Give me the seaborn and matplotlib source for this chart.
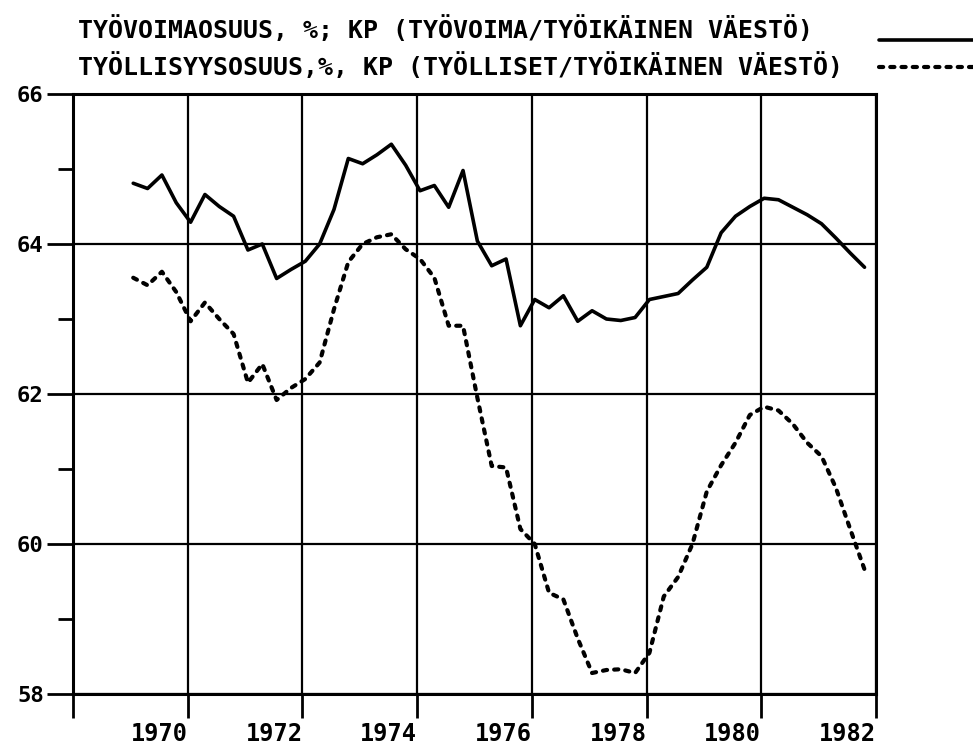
import numpy as np
import pandas as pd
import matplotlib
matplotlib.use("Agg")
import matplotlib.pyplot as plt
import seaborn as sns

# neljännesvuodet 1969 I - 1981 IV
vuodet = list(range(1969, 1982))
neljannes = [0.05, 0.30, 0.55, 0.80]

# työvoimaosuus, % (kausipuhdistettu)
tyovoimaosuus = [
    64.81, 64.74, 64.92, 64.55, 64.29, 64.66, 64.50, 64.37, 63.92, 64.00,
    63.54, 63.66, 63.77, 64.00, 64.46, 65.14, 65.07, 65.19, 65.33, 65.05,
    64.71, 64.78, 64.49, 64.98, 64.04, 63.71, 63.80, 62.91, 63.26, 63.15,
    63.31, 62.97, 63.11, 63.00, 62.98, 63.02, 63.26, 63.30, 63.34, 63.52,
    63.69, 64.15, 64.37, 64.50, 64.61, 64.59, 64.49, 64.39, 64.27, 64.08,
    63.88, 63.69,
]

# työllisyysosuus, % (kausipuhdistettu)
tyollisyysosuus = [
    63.55, 63.45, 63.63, 63.36, 62.97, 63.22, 63.00, 62.80, 62.15, 62.40,
    61.92, 62.08, 62.20, 62.42, 63.13, 63.76, 64.00, 64.09, 64.13, 63.93,
    63.80, 63.55, 62.91, 62.91, 61.95, 61.04, 61.02, 60.20, 60.00, 59.35,
    59.26, 58.74, 58.28, 58.32, 58.33, 58.28, 58.55, 59.30, 59.56, 60.00,
    60.70, 61.05, 61.35, 61.72, 61.83, 61.78, 61.60, 61.35, 61.17, 60.75,
    60.20, 59.66,
]

otsikko1 = "TYÖVOIMAOSUUS, %; KP (TYÖVOIMA/TYÖIKÄINEN VÄESTÖ)"
otsikko2 = "TYÖLLISYYSOSUUS,%, KP (TYÖLLISET/TYÖIKÄINEN VÄESTÖ)"

x_tikit = [1968, 1970, 1972, 1974, 1976, 1978, 1980, 1982]
x_nimet = ["", "1970", "1972", "1974", "1976", "1978", "1980", "1982"]
y_tikit = [58, 60, 62, 64, 66]
y_pienet = [59, 61, 63, 65]

aika = [v + q for v in vuodet for q in neljannes]
df = pd.DataFrame({"aika": aika, "tyovoima": tyovoimaosuus, "tyollisyys": tyollisyysosuus})

#%%
sns.set_theme(style="white")
plt.rcParams["font.family"] = ["DejaVu Sans Mono", "DejaVu Sans"]
plt.rcParams["font.weight"] = "bold"
for k in ["text.color", "xtick.color", "ytick.color", "axes.labelcolor"]:
    plt.rcParams[k] = "black"

fig = plt.figure(figsize=(9.73, 7.46), dpi=100)
ax = fig.add_axes([73 / 973, 1 - 694 / 746, (876 - 73) / 973, (694 - 94) / 746])

sns.lineplot(data=df, x="aika", y="tyovoima", ax=ax, color="black", lw=2.6,
             label=otsikko1, zorder=3)
sns.lineplot(data=df, x="aika", y="tyollisyys", ax=ax, color="black", lw=3.0,
             linestyle=(0, (1.0, 1.7)), dash_capstyle="round", label=otsikko2, zorder=3)

ax.set_xlim(1968, 1982)
ax.set_ylim(58, 66)
ax.set_xticks(x_tikit)
ax.set_xticklabels(x_nimet)
for t in ax.get_xticklabels():
    t.set_ha("right")
ax.set_yticks(y_tikit)
ax.set_yticks(y_pienet, minor=True)
ax.set_xlabel("")
ax.set_ylabel("")

ax.grid(True, which="major", color="black", lw=1.6)
ax.tick_params(axis="x", bottom=True, direction="out", length=17, width=2,
               pad=3, labelsize=17)
ax.tick_params(axis="y", which="major", left=True, direction="out", length=19,
               width=2, pad=2, labelsize=16)
ax.tick_params(axis="y", which="minor", left=True, direction="out", length=11, width=2)
for s in ax.spines.values():
    s.set_visible(True)
    s.set_color("black")
    s.set_linewidth(2.2)

# selitteet: tekstit vasemmalla, viivanäytteet oikeassa reunassa
h, l = ax.get_legend_handles_labels()
ax.get_legend().remove()
fig.text(78 / 973, 1 - 30 / 746, l[0], fontsize=17.9, fontweight="bold", va="center")
fig.text(78 / 973, 1 - 67 / 746, l[1], fontsize=17.9, fontweight="bold", va="center")
fig.legend(h, ["", ""], loc="upper right", bbox_to_anchor=(1.0, 1 - 29 / 746),
           markerfirst=False, frameon=False, fontsize=17,
           handlelength=4.0, handletextpad=0, labelspacing=0.15,
           borderaxespad=0, borderpad=0)

fig.savefig("out.png", dpi=100, facecolor="white")
